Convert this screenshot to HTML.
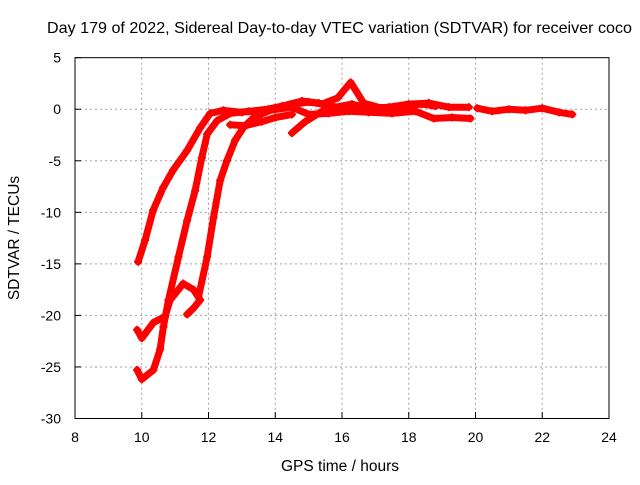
<!DOCTYPE html>
<html><head><meta charset="utf-8"><style>
body{margin:0;background:#fff;}
svg text{font-family:"Liberation Sans",sans-serif;fill:#000;}
</style></head><body>
<svg id="chart" width="640" height="480" xmlns="http://www.w3.org/2000/svg">
<rect width="640" height="480" fill="#fff"/>
<text x="47" y="33" font-size="16" textLength="585" lengthAdjust="spacingAndGlyphs">Day 179 of 2022, Sidereal Day-to-day VTEC variation (SDTVAR) for receiver coco</text>
<g id="grid"></g>
<g id="series"></g>
<rect x="75" y="57.7" width="534" height="360.8" fill="none" stroke="#000" stroke-width="1"/>
<g id="ticks"></g>
<text x="340" y="471" font-size="15.5" text-anchor="middle">GPS time / hours</text>
<text transform="translate(19,238) rotate(-90)" font-size="15.5" text-anchor="middle">SDTVAR / TECUs</text>
</svg>
<script>
const xTicks=[8,10,12,14,16,18,20,22,24];
const yTicks=[5,0,-5,-10,-15,-20,-25,-30];
const s1x=[9.89,10.1,10.34,10.64,10.94,11.36,11.75,12.05,12.45,13.0,13.6,14.2,14.8,15.3,15.8,16.3,16.8,17.4,18.0,18.6,19.2,19.8];
const s1y=[-14.8,-12.7,-9.8,-7.6,-5.9,-4.0,-1.8,-0.4,-0.1,-0.3,-0.1,0.3,0.8,0.6,0.2,0.5,0.1,0.2,0.5,0.6,0.2,0.2];
const s2x=[9.86,10.0,10.35,10.7,10.85,11.1,11.24,11.55,11.75,11.55,11.36];
const s2y=[-21.4,-22.2,-20.7,-20.1,-18.5,-17.5,-16.9,-17.5,-18.5,-19.3,-19.9];
const s3x=[9.86,10.0,10.35,10.55,10.65,10.8,11.1,11.36,11.6,11.8,11.96,12.26,12.65,13.2,13.8,14.4,15.0,15.4,15.87,16.26,16.65,17.2,17.8,18.4,18.8];
const s3y=[-25.3,-26.2,-25.3,-23.3,-21.1,-18.5,-14.3,-10.8,-7.9,-4.7,-2.4,-1.1,-0.4,-0.2,0,0.4,0.7,0.5,1.1,2.6,0.6,0.1,0.3,0.5,0.3];
const s4x=[11.7,11.96,12.15,12.35,12.55,12.8,13.04,13.35,13.85,14.5,15.0,15.6,16.2,16.8,17.5,18.2,18.75,19.3,19.85];
const s4y=[-18.2,-14.3,-10.5,-6.9,-5,-3,-1.8,-0.8,-0.1,0.2,-0.5,-0.4,-0.2,-0.3,-0.4,-0.2,-0.9,-0.8,-0.9];
const s5x=[12.65,13.1,13.6,14.0,14.5];
const s5y=[-1.5,-1.6,-1.2,-0.8,-0.5];
const s6x=[14.5,14.9,15.3,15.6,16.0];
const s6y=[-2.3,-1.2,-0.4,0.2,0.0];
const s7x=[20.05,20.5,21.0,21.5,22.0,22.5,22.9];
const s7y=[0.1,-0.2,0.0,-0.1,0.1,-0.3,-0.5];
const NS="http://www.w3.org/2000/svg";
function X(h){return 75+(h-8)*(534/16);}
function Y(v){return 57.7+(5-v)*(360.8/35);}
const grid=document.getElementById('grid'),ticks=document.getElementById('ticks'),ser=document.getElementById('series');
function mk(tag,a,p){const e=document.createElementNS(NS,tag);for(const k in a)e.setAttribute(k,a[k]);p.appendChild(e);return e;}
xTicks.forEach(t=>{
 if(t>8&&t<24){const l=mk('line',{x1:X(t),x2:X(t),y1:57.7,y2:418.5,stroke:'#a0a0a0','stroke-dasharray':'2,3'},grid);
 
 }
 const tk=mk('line',{x1:X(t),x2:X(t),y1:418.5,y2:412,stroke:'#000'},ticks);
 
 
 const tx=mk('text',{x:X(t),y:442,'font-size':'14','text-anchor':'middle'},ticks);tx.textContent=t;
 
 
});
yTicks.forEach(t=>{
 if(t<5&&t>-30){const l=mk('line',{x1:75,x2:609,y1:Y(t),y2:Y(t),stroke:'#a0a0a0','stroke-dasharray':'2,3'},grid);
 
 }
 const tk=mk('line',{x1:75,x2:81,y1:Y(t),y2:Y(t),stroke:'#000'},ticks);
 
 
 const tx=mk('text',{x:61,y:Y(t)+5,'font-size':'14','text-anchor':'end'},ticks);tx.textContent=t;
 
 
});
[[s1x,s1y],[s2x,s2y],[s3x,s3y],[s4x,s4y],[s5x,s5y],[s6x,s6y],[s7x,s7y]].forEach((s,i)=>{
 const d=s[0].map((h,j)=>(j?'L':'M')+X(h).toFixed(1)+','+Y(s[1][j]).toFixed(1)).join(' ');
 const p=mk('path',{d:d,fill:'none',stroke:'#ff0000','stroke-width':'7','stroke-linejoin':'round','stroke-linecap':'round'},ser);
 
 
 s[0].forEach((h,j)=>{
  const m=mk('path',{d:`M${X(h)-4},${Y(s[1][j])}h8M${X(h)},${Y(s[1][j])-4}v8`,stroke:'#ff0000','stroke-width':'2'},ser);
  
  
 });
});
</script>
</body></html>
